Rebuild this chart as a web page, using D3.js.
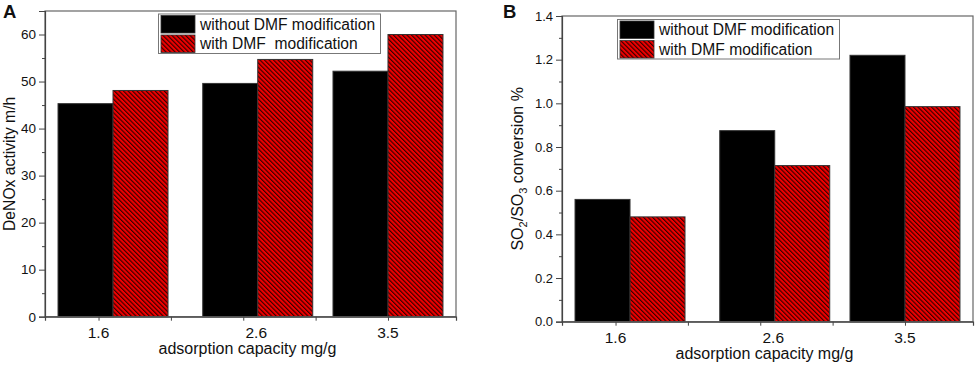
<!DOCTYPE html>
<html>
<head>
<meta charset="utf-8">
<script src="https://cdn.jsdelivr.net/npm/d3@7"></script>
<style>
  body { margin: 0; background: #fff; }
  svg { font-family: Arial, "Liberation Sans", sans-serif; }
</style>
</head>
<body>
<svg id="chart" width="976" height="365"></svg>
<script>
// adsorption capacity (mg/g), bar groups sit on a linear x axis
const capacity = [1.6, 2.6, 3.5];
const seriesNames = ["without DMF modification", "with DMF modification"];
const legendNamesA = ["without DMF modification", "with DMF  modification"];

// panel A: DeNOx activity m/h
const deNOxWithout = [45.3, 49.6, 52.2];
const deNOxWith = [48.1, 54.7, 60.0];

// panel B: SO2/SO3 conversion %
const convWithout = [0.56, 0.875, 1.22];
const convWith = [0.48, 0.715, 0.985];

// x tick marks and x tick labels
const xTickValues = [1.5, 2.0, 2.5, 3.0, 3.5];
const xLabelText = ["1.6", "2.6", "3.5"];
const xLabelPos = [1.5, 2.59, 3.5];

const yTicksA = [0, 10, 20, 30, 40, 50, 60];
const yTicksB = [0, 0.2, 0.4, 0.6, 0.8, 1.0, 1.2, 1.4];

const svg = d3.select("#chart");
const axisColor = "#444";

// hatch pattern for the red bars
const defs = svg.append("defs");
const pat = defs.append("pattern")
    .attr("id", "hatch")
    .attr("patternUnits", "userSpaceOnUse")
    .attr("width", 3.2)
    .attr("height", 10)
    .attr("patternTransform", "rotate(-45)");
pat.append("rect").attr("width", 3.2).attr("height", 10).attr("fill", "#f00000");
pat.append("line")
    .attr("x1", 0.6).attr("y1", 0).attr("x2", 0.6).attr("y2", 10)
    .attr("stroke", "#1a0000").attr("stroke-width", 1);

function drawPanel(opts) {
    const g = svg.append("g");
    const x = d3.scaleLinear().domain([1.13, 3.97]).range([opts.left, opts.right]);
    const y = d3.scaleLinear().domain(opts.yDomain).range([opts.bottom, opts.top]);
    const barW = 0.38;

    // bars
    const rows = capacity.map((c, i) => ({ c, a: opts.without[i], b: opts.with[i] }));
    g.selectAll(".barA").data(rows).enter().append("rect")
        .attr("x", d => x(d.c - barW))
        .attr("y", d => y(d.a))
        .attr("width", d => x(d.c) - x(d.c - barW))
        .attr("height", d => y(0) - y(d.a))
        .attr("fill", "#000")
        .attr("stroke", "#333").attr("stroke-width", 1);
    g.selectAll(".barB").data(rows).enter().append("rect")
        .attr("x", d => x(d.c))
        .attr("y", d => y(d.b))
        .attr("width", d => x(d.c + barW) - x(d.c))
        .attr("height", d => y(0) - y(d.b))
        .attr("fill", "url(#hatch)")
        .attr("stroke", "#333").attr("stroke-width", 1);

    // frame
    g.append("rect")
        .attr("x", opts.left).attr("y", opts.top)
        .attr("width", opts.right - opts.left)
        .attr("height", opts.bottom - opts.top)
        .attr("fill", "none").attr("stroke", "#666").attr("stroke-width", 1.2);

    // y axis: minor then major ticks
    const yMinor = g.append("g").attr("transform", `translate(${opts.left},0)`)
        .call(d3.axisLeft(y).tickValues(opts.yMinor).tickSize(3).tickFormat(""));
    yMinor.select(".domain").remove();
    const yAxis = g.append("g").attr("transform", `translate(${opts.left},0)`)
        .call(d3.axisLeft(y).tickValues(opts.yTicks).tickSize(6).tickPadding(3)
            .tickFormat(opts.yFormat));
    yAxis.select(".domain").attr("stroke", axisColor).attr("stroke-width", 1.2);
    g.selectAll(".tick line").attr("stroke", axisColor);
    yAxis.selectAll("text").attr("font-size", opts.yTickSize).attr("fill", "#111")
        .attr("font-family", "Arial, 'Liberation Sans', sans-serif");

    // x axis
    const xAxis = g.append("g").attr("transform", `translate(0,${opts.bottom})`)
        .call(d3.axisBottom(x).tickValues(xTickValues).tickSize(4).tickFormat(""));
    xAxis.select(".domain").attr("stroke", axisColor).attr("stroke-width", 1.2);
    xAxis.selectAll(".tick line").attr("stroke", axisColor);
    g.selectAll(".xlab").data(xLabelText).enter().append("text")
        .attr("x", (d, i) => x(xLabelPos[i]))
        .attr("y", opts.bottom + 21)
        .attr("text-anchor", "middle")
        .attr("font-size", 15.5).attr("fill", "#111")
        .text(d => d);

    g.append("text")
        .attr("x", (opts.left + opts.right) / 2 - 3)
        .attr("y", opts.bottom + 37)
        .attr("text-anchor", "middle")
        .attr("font-size", 16).attr("fill", "#111")
        .text("adsorption capacity mg/g");

    // y title
    const yt = g.append("text")
        .attr("transform", `translate(${opts.yTitleX},${(opts.top + opts.bottom) / 2}) rotate(-90)`)
        .attr("text-anchor", "middle")
        .attr("font-size", opts.yTitleSize).attr("fill", "#111");
    opts.yTitle(yt);

    // panel letter
    g.append("text")
        .attr("x", opts.letterX).attr("y", 18)
        .attr("font-size", 18.5).attr("font-weight", "bold").attr("fill", "#111")
        .text(opts.letter);

    // legend
    const lg = g.append("g");
    lg.append("rect")
        .attr("x", opts.legend.x).attr("y", opts.legend.y)
        .attr("width", opts.legend.w).attr("height", 39.5)
        .attr("fill", "#fff").attr("stroke", "#777").attr("stroke-width", 1);
    opts.legendNames.forEach((name, i) => {
        lg.append("rect")
            .attr("x", opts.legend.x + 2.5).attr("y", opts.legend.y + 1.5 + i * 19.5)
            .attr("width", 34).attr("height", 17.5)
            .attr("fill", i === 0 ? "#000" : "url(#hatch)")
            .attr("stroke", "#333").attr("stroke-width", 0.8);
        lg.append("text")
            .attr("x", opts.legend.x + 41.5).attr("y", opts.legend.y + 15.5 + i * 19.5)
            .attr("font-size", 15.6).attr("fill", "#111")
            .attr("xml:space", "preserve")
            .style("white-space", "pre")
            .text(name);
    });
}

drawPanel({
    left: 45, right: 456, top: 11, bottom: 316.7,
    yDomain: [0, 65],
    yTicks: yTicksA,
    yMinor: d3.range(5, 65, 10),
    yFormat: d3.format("d"),
    yTickSize: 13.5,
    without: deNOxWithout, with: deNOxWith,
    yTitleX: 14.5, yTitleSize: 15.7,
    yTitle: t => t.text("DeNOx activity m/h"),
    letter: "A", letterX: 3,
    legend: { x: 158.5, y: 14, w: 222 },
    legendNames: legendNamesA
});

drawPanel({
    left: 562, right: 973, top: 16, bottom: 321.7,
    yDomain: [0, 1.4],
    yTicks: yTicksB,
    yMinor: d3.range(0.1, 1.4, 0.2),
    yFormat: d3.format(".1f"),
    yTickSize: 13,
    without: convWithout, with: convWith,
    yTitleX: 523, yTitleSize: 16,
    yTitle: t => {
        t.append("tspan").text("SO");
        t.append("tspan").attr("font-size", 11).attr("dy", 4).text("2");
        t.append("tspan").attr("dy", -4).text("/SO");
        t.append("tspan").attr("font-size", 11).attr("dy", 4).text("3");
        t.append("tspan").attr("dy", -4).text(" conversion %");
    },
    letter: "B", letterX: 503,
    legend: { x: 617.5, y: 19.5, w: 222 },
    legendNames: seriesNames
});
</script>
</body>
</html>
